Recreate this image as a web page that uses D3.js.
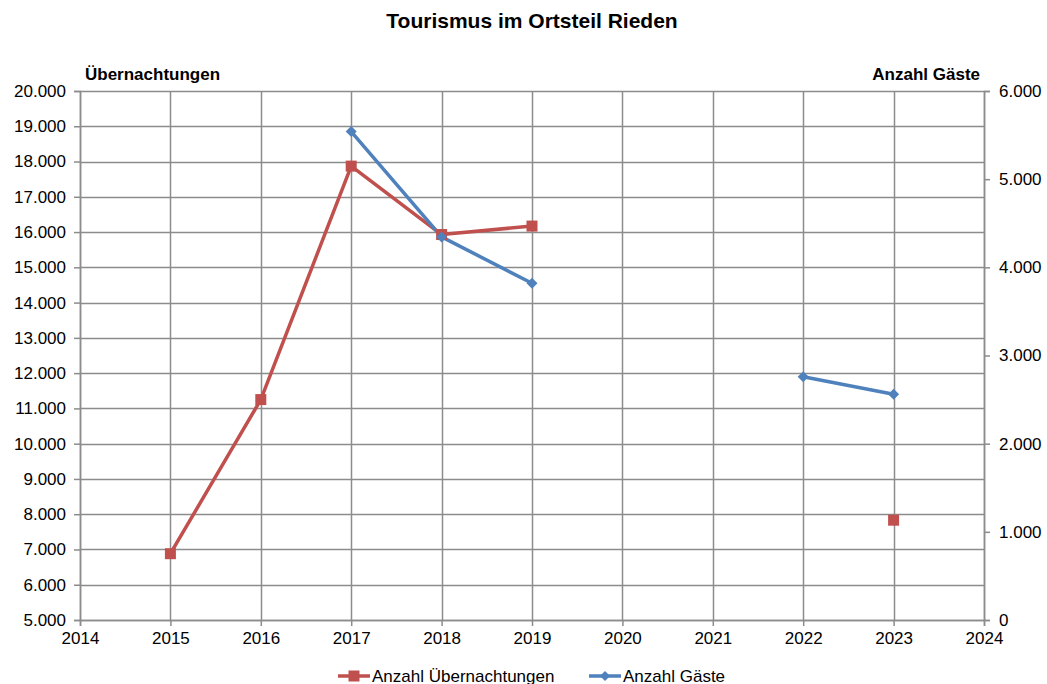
<!DOCTYPE html>
<html><head><meta charset="utf-8">
<script src="https://cdn.jsdelivr.net/npm/d3@7"></script>
<style>body{margin:0;background:#fff;} svg{display:block;font-family:"Liberation Sans",Arial,sans-serif;}</style>
</head><body><svg id="c" width="1047" height="684"></svg>
<script>
const years = [2015, 2016, 2017, 2018, 2019, 2020, 2021, 2022, 2023];
const uebernachtungen = [6880, 11250, 17870, 15930, 16170, null, null, null, 7830];
const gaeste = [null, null, 5540, 4345, 3820, null, null, 2760, 2560];
const leftTicks = [5000,6000,7000,8000,9000,10000,11000,12000,13000,14000,15000,16000,17000,18000,19000,20000];
const rightTicks = [0,1000,2000,3000,4000,5000,6000];
const xTicks = [2014,2015,2016,2017,2018,2019,2020,2021,2022,2023,2024];

const svg = d3.select("#c");
const L = 80, R = 984, T = 91, B = 620;
const x = d3.scaleLinear().domain([2014, 2024]).range([L, R]);
const yL = d3.scaleLinear().domain([5000, 20000]).range([B, T]);
const yR = d3.scaleLinear().domain([0, 6000]).range([B, T]);
const fmt = v => d3.format(",")(v).replace(/,/g, ".");
const grid = "#8c8c8c";

// grid
svg.append("g").selectAll("line").data(leftTicks).join("line")
  .attr("x1", L).attr("x2", R).attr("y1", d => Math.round(yL(d)) + 0.5).attr("y2", d => Math.round(yL(d)) + 0.5)
  .attr("stroke", grid).attr("stroke-width", 1.5);
svg.append("g").selectAll("line").data(xTicks).join("line")
  .attr("y1", T).attr("y2", B).attr("x1", d => Math.round(x(d)) + 0.5).attr("x2", d => Math.round(x(d)) + 0.5)
  .attr("stroke", grid).attr("stroke-width", 1.5);

// axes
const gl = svg.append("g").attr("transform", `translate(${L},0)`)
  .call(d3.axisLeft(yL).tickValues(leftTicks).tickFormat(fmt).tickSize(6).tickPadding(8));
const gr = svg.append("g").attr("transform", `translate(${R},0)`)
  .call(d3.axisRight(yR).tickValues(rightTicks).tickFormat(fmt).tickSize(6).tickPadding(9));
const gb = svg.append("g").attr("transform", `translate(0,${B})`)
  .call(d3.axisBottom(x).tickValues(xTicks).tickFormat(d3.format("d")).tickSize(6).tickPadding(6));
[gl, gr, gb].forEach(g => {
  g.selectAll("path.domain").attr("stroke", grid).attr("stroke-width", 1.5);
  g.selectAll(".tick line").attr("stroke", grid).attr("stroke-width", 1.5);
  g.selectAll("text").attr("font-size", 17).attr("fill", "#000").attr("font-family", '"Liberation Sans",Arial,sans-serif');
});

// lines
const redC = "#C0504D", blueC = "#4F81BD";
const lineL = d3.line().defined(d => d[1] != null).x(d => x(d[0])).y(d => yL(d[1]));
const lineR = d3.line().defined(d => d[1] != null).x(d => x(d[0])).y(d => yR(d[1]));
const redData = years.map((y, i) => [y, uebernachtungen[i]]);
const blueData = years.map((y, i) => [y, gaeste[i]]);
svg.append("path").attr("d", lineL(redData)).attr("fill", "none").attr("stroke", redC).attr("stroke-width", 3.5).attr("stroke-linejoin", "round");
svg.append("path").attr("d", lineR(blueData)).attr("fill", "none").attr("stroke", blueC).attr("stroke-width", 3.5).attr("stroke-linejoin", "round");
svg.append("g").selectAll("rect").data(redData.filter(d => d[1] != null)).join("rect")
  .attr("x", d => x(d[0]) - 5.5).attr("y", d => yL(d[1]) - 5.5).attr("width", 11).attr("height", 11).attr("fill", redC);
const diamond = s => `M0,${-s}L${s},0L0,${s}L${-s},0Z`;
svg.append("g").selectAll("path").data(blueData.filter(d => d[1] != null)).join("path")
  .attr("transform", d => `translate(${x(d[0])},${yR(d[1])})`).attr("d", diamond(5.5)).attr("fill", blueC);

// titles
svg.append("text").attr("x", 532).attr("y", 28).attr("text-anchor", "middle").attr("font-size", 21).attr("font-weight", "bold").text("Tourismus im Ortsteil Rieden");
svg.append("text").attr("x", 85).attr("y", 80).attr("font-size", 17).attr("font-weight", "bold").text("Übernachtungen");
svg.append("text").attr("x", 980).attr("y", 80).attr("text-anchor", "end").attr("font-size", 17).attr("font-weight", "bold").text("Anzahl Gäste");

// legend
const lg = svg.append("g");
lg.append("line").attr("x1", 338).attr("x2", 370).attr("y1", 676).attr("y2", 676).attr("stroke", redC).attr("stroke-width", 3.5);
lg.append("rect").attr("x", 348.5).attr("y", 670.5).attr("width", 11).attr("height", 11).attr("fill", redC);
lg.append("text").attr("x", 372).attr("y", 682).attr("font-size", 17).text("Anzahl Übernachtungen");
lg.append("line").attr("x1", 589).attr("x2", 621).attr("y1", 676).attr("y2", 676).attr("stroke", blueC).attr("stroke-width", 3.5);
lg.append("path").attr("transform", "translate(605,676)").attr("d", diamond(5)).attr("fill", blueC);
lg.append("text").attr("x", 623).attr("y", 682).attr("font-size", 17).text("Anzahl Gäste");
</script></body></html>
